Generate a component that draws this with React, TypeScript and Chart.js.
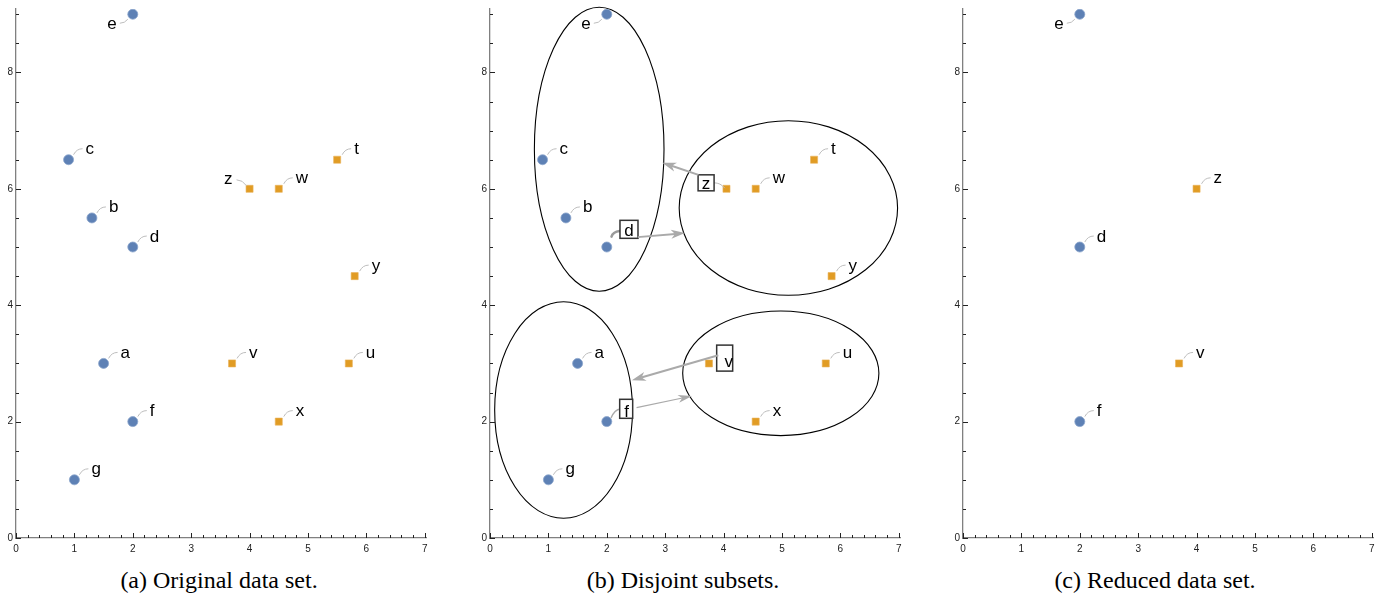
import React, { useEffect, useRef } from 'react';
import { Chart, registerables } from 'chart.js';
Chart.register(...registerables);

// ---------------- data ----------------
const BLUE_NAMES = ['e', 'c', 'b', 'd', 'a', 'f', 'g'];
const BLUE_X = [2, 0.9, 1.3, 2, 1.5, 2, 1];
const BLUE_Y = [9, 6.5, 5.5, 5, 3, 2, 1];
const ORANGE_NAMES = ['z', 'w', 't', 'y', 'v', 'u', 'x'];
const ORANGE_X = [4, 4.5, 5.5, 5.8, 3.7, 5.7, 4.5];
const ORANGE_Y = [6, 6, 6.5, 4.5, 3, 3, 2];
const ORANGE_X_SUBSETS = [4.05, 4.55, 5.55, 5.85, 3.75, 5.75, 4.55];
const REDUCED_NAMES = ['e', 'd', 'f', 'z', 'v'];

const ELLIPSE_CX = [1.87, 5.11, 1.26, 4.98];
const ELLIPSE_CY = [6.68, 5.67, 2.2, 2.83];
const ELLIPSE_RX = [1.11, 1.87, 1.18, 1.68];
const ELLIPSE_RY = [2.44, 1.5, 1.86, 1.07];

const ARROW_FROM_X = [3.57, 2.53, 3.91, 2.51];
const ARROW_FROM_Y = [6.24, 5.17, 3.14, 2.24];
const ARROW_TO_X = [2.95, 3.34, 2.43, 3.46];
const ARROW_TO_Y = [6.45, 5.24, 2.71, 2.44];

const X_TICKS = [0, 1, 2, 3, 4, 5, 6, 7];
const Y_TICKS = [0, 2, 4, 6, 8];
const CAPTIONS = ['(a) Original data set.', '(b) Disjoint subsets.', '(c) Reduced data set.'];

// ---------------- styles ----------------
const BLUE = '#5E81B5';
const ORANGE = '#E19C24';
const LABEL_FONT = '17px "Liberation Sans", Arial, sans-serif';
const TICK_FONT = { family: '"Liberation Sans", Arial, sans-serif', size: 10 };
const ARROW_WIDTH = [2, 2, 2, 1.2];
const PANEL_LEFT = [0, 474, 947];
const CAPTION_CENTER = [219, 683, 1155];

type Mode = 'a' | 'b' | 'c';
type P = { x: number; y: number; name: string };

const PLACE: Record<Mode, Record<string, string>> = {
  a: { e: 'leftDown', z: 'leftUp' },
  b: { e: 'leftDown', z: 'box', d: 'box', f: 'box', v: 'box' },
  c: { e: 'leftDown' },
};

const BOX: Record<string, any> = {
  z: { dx: -20.4, dy: -6, w: 16, h: 16, tx: 0, ty: 6, c: [-2, -1, -6, -6, -12, -6], cw: 1, cc: '#bbbbbb' },
  d: { dx: 22.2, dy: -17.7, w: 18, h: 18, tx: 0, ty: 7, c: [4.7, -10.4, 6, -15, 13, -16], cw: 2.5, cc: '#9a9a9a' },
  f: { dx: 19.4, dy: -12.8, w: 13, h: 19, tx: 0.5, ty: 8, c: [4.4, -4, 8, -12, 13.5, -12.6], cw: 1.3, cc: '#aaaaaa' },
  v: { dx: 15.7, dy: -5.3, w: 16, h: 26, tx: 4, ty: 8.6, c: null },
};

function drawLabel(ctx: CanvasRenderingContext2D, px: number, py: number, name: string, place: string) {
  ctx.save();
  ctx.font = LABEL_FONT;
  ctx.fillStyle = '#000';
  ctx.textBaseline = 'alphabetic';
  ctx.strokeStyle = '#bdbdbd';
  ctx.lineWidth = 1;
  if (place === 'leftDown') {
    ctx.beginPath();
    ctx.moveTo(px - 5, py + 5);
    ctx.quadraticCurveTo(px - 8, py + 9, px - 13, py + 9);
    ctx.stroke();
    ctx.textAlign = 'right';
    ctx.fillText(name, px - 16, py + 15);
  } else if (place === 'leftUp') {
    ctx.beginPath();
    ctx.moveTo(px - 3, py - 3);
    ctx.quadraticCurveTo(px - 7, py - 9, px - 13, py - 9);
    ctx.stroke();
    ctx.textAlign = 'right';
    ctx.fillText(name, px - 17, py - 4.5);
  } else if (place === 'box') {
    const b = BOX[name];
    if (b.c) {
      ctx.strokeStyle = b.cc;
      ctx.lineWidth = b.cw;
      ctx.lineCap = 'round';
      ctx.beginPath();
      ctx.moveTo(px + b.c[0], py + b.c[1]);
      ctx.quadraticCurveTo(px + b.c[2], py + b.c[3], px + b.c[4], py + b.c[5]);
      ctx.stroke();
    }
    const cx = px + b.dx, cy = py + b.dy;
    ctx.fillStyle = '#fff';
    ctx.fillRect(cx - b.w / 2, cy - b.h / 2, b.w, b.h);
    ctx.strokeStyle = '#333';
    ctx.lineWidth = 1.5;
    ctx.strokeRect(cx - b.w / 2, cy - b.h / 2, b.w, b.h);
    ctx.fillStyle = '#000';
    ctx.textAlign = 'center';
    ctx.fillText(name, cx + b.tx, cy + b.ty);
  } else {
    ctx.beginPath();
    ctx.moveTo(px + 5, py - 5);
    ctx.quadraticCurveTo(px + 8, py - 11, px + 14, py - 11);
    ctx.stroke();
    ctx.textAlign = 'left';
    ctx.fillText(name, px + 17, py - 5.5);
  }
  ctx.restore();
}

function drawArrow(ctx: CanvasRenderingContext2D, x0: number, y0: number, x1: number, y1: number, w: number) {
  const ang = Math.atan2(y1 - y0, x1 - x0);
  const ux = Math.cos(ang), uy = Math.sin(ang);
  const L = 14, W = w > 1.5 ? 4.5 : 4;
  ctx.save();
  ctx.strokeStyle = '#aaaaaa';
  ctx.fillStyle = '#aaaaaa';
  ctx.lineWidth = w;
  ctx.beginPath();
  ctx.moveTo(x0, y0);
  ctx.lineTo(x1 - ux * L * 0.7, y1 - uy * L * 0.7);
  ctx.stroke();
  ctx.beginPath();
  ctx.moveTo(x1, y1);
  ctx.lineTo(x1 - ux * L - uy * W, y1 - uy * L + ux * W);
  ctx.lineTo(x1 - ux * L * 0.72, y1 - uy * L * 0.72);
  ctx.lineTo(x1 - ux * L + uy * W, y1 - uy * L - ux * W);
  ctx.closePath();
  ctx.fill();
  ctx.restore();
}

function makeDecor(mode: Mode, points: P[]) {
  return {
    id: 'decor' + mode,
    beforeDatasetsDraw(chart: any) {
      if (mode !== 'b') return;
      const { ctx } = chart;
      const xs = chart.scales.x, ys = chart.scales.y;
      ctx.save();
      ctx.strokeStyle = '#000';
      ctx.lineWidth = 1.1;
      for (let i = 0; i < ELLIPSE_CX.length; i++) {
        const cx = xs.getPixelForValue(ELLIPSE_CX[i]);
        const cy = ys.getPixelForValue(ELLIPSE_CY[i]);
        const rx = xs.getPixelForValue(ELLIPSE_CX[i] + ELLIPSE_RX[i]) - cx;
        const ry = cy - ys.getPixelForValue(ELLIPSE_CY[i] + ELLIPSE_RY[i]);
        ctx.beginPath();
        ctx.ellipse(cx, cy, rx, ry, 0, 0, Math.PI * 2);
        ctx.stroke();
      }
      ctx.restore();
    },
    afterDraw(chart: any) {
      const { ctx, chartArea } = chart;
      const xs = chart.scales.x, ys = chart.scales.y;
      // inward tick marks
      ctx.save();
      ctx.strokeStyle = '#222';
      ctx.lineWidth = 1;
      ctx.beginPath();
      for (let k = 0; k <= 35; k++) {
        const v = k * 0.2;
        const px = Math.round(xs.getPixelForValue(v)) + 0.5;
        const len = k % 5 === 0 ? 5 : 3;
        ctx.moveTo(px, chartArea.bottom);
        ctx.lineTo(px, chartArea.bottom - len);
      }
      for (let k = 0; k <= 18; k++) {
        const v = k * 0.5;
        const py = Math.round(ys.getPixelForValue(v)) + 0.5;
        const len = k % 4 === 0 ? 5 : 3;
        ctx.moveTo(chartArea.left, py);
        ctx.lineTo(chartArea.left + len, py);
      }
      ctx.stroke();
      ctx.restore();
      // labels
      for (const p of points) {
        const px = xs.getPixelForValue(p.x);
        const py = ys.getPixelForValue(p.y);
        drawLabel(ctx, px, py, p.name, PLACE[mode][p.name] || 'right');
      }
      if (mode === 'b') {
        for (let i = 0; i < ARROW_FROM_X.length; i++) {
          drawArrow(
            ctx,
            xs.getPixelForValue(ARROW_FROM_X[i]),
            ys.getPixelForValue(ARROW_FROM_Y[i]),
            xs.getPixelForValue(ARROW_TO_X[i]),
            ys.getPixelForValue(ARROW_TO_Y[i]),
            ARROW_WIDTH[i]
          );
        }
      }
    },
  };
}

function Panel({ mode, blue, orange, left }: { mode: Mode; blue: P[]; orange: P[]; left: number }) {
  const ref = useRef<HTMLCanvasElement>(null);
  useEffect(() => {
    const chart = new Chart(ref.current!, {
      type: 'scatter',
      data: {
        datasets: [
          {
            data: blue as any,
            pointStyle: 'circle',
            pointRadius: 5,
            backgroundColor: BLUE,
            borderColor: '#8aa4cc',
            borderWidth: 0.8,
          },
          {
            data: orange as any,
            pointStyle: 'rect',
            pointRadius: 5,
            backgroundColor: ORANGE,
            borderColor: '#eab25a',
            borderWidth: 0.6,
          },
        ],
      },
      options: {
        responsive: false,
        animation: false,
        events: [],
        layout: { padding: { top: 7, right: 13.5, bottom: 0, left: 0 } },
        plugins: { legend: { display: false }, tooltip: { enabled: false } },
        scales: {
          x: {
            type: 'linear',
            min: 0,
            max: 7.03,
            afterBuildTicks: (s: any) => {
              s.ticks = X_TICKS.map((v) => ({ value: v }));
            },
            afterFit: (s: any) => {
              s.height = 22;
            },
            grid: { display: false, drawTicks: false },
            border: { display: true, color: '#808080', width: 1.3 },
            ticks: {
              font: TICK_FONT,
              color: '#222',
              padding: 5,
              autoSkip: false,
              maxRotation: 0,
              callback: (v: any) => String(v),
            },
          },
          y: {
            type: 'linear',
            min: 0,
            max: 9.09,
            afterBuildTicks: (s: any) => {
              s.ticks = Y_TICKS.map((v) => ({ value: v }));
            },
            afterFit: (s: any) => {
              s.width = 16;
            },
            grid: { display: false, drawTicks: false },
            border: { display: true, color: '#808080', width: 1.3 },
            ticks: {
              font: TICK_FONT,
              color: '#222',
              padding: 3,
              autoSkip: false,
              callback: (v: any) => String(v),
            },
          },
        },
      } as any,
      plugins: [makeDecor(mode, [...blue, ...orange]) as any],
    });
    return () => chart.destroy();
  }, []);
  return (
    <canvas
      ref={ref}
      width={440}
      height={560}
      style={{ position: 'absolute', left, top: 0, width: 440, height: 560 }}
    />
  );
}

function pts(names: string[], xs: number[], ys: number[], keep?: string[]): P[] {
  return names
    .map((name, i) => ({ name, x: xs[i], y: ys[i] }))
    .filter((p) => !keep || keep.includes(p.name));
}

export default function App() {
  const blueA = pts(BLUE_NAMES, BLUE_X, BLUE_Y);
  const orangeA = pts(ORANGE_NAMES, ORANGE_X, ORANGE_Y);
  const orangeB = pts(ORANGE_NAMES, ORANGE_X_SUBSETS, ORANGE_Y);
  const blueC = pts(BLUE_NAMES, BLUE_X, BLUE_Y, REDUCED_NAMES);
  const orangeC = pts(ORANGE_NAMES, ORANGE_X, ORANGE_Y, REDUCED_NAMES);
  return (
    <div style={{ position: 'absolute', left: 0, top: 0, width: 1391, height: 595, background: '#fff' }}>
      <Panel mode="a" blue={blueA} orange={orangeA} left={PANEL_LEFT[0]} />
      <Panel mode="b" blue={blueA} orange={orangeB} left={PANEL_LEFT[1]} />
      <Panel mode="c" blue={blueC} orange={orangeC} left={PANEL_LEFT[2]} />
      {CAPTIONS.map((c, i) => (
        <div
          key={c}
          style={{
            position: 'absolute',
            left: CAPTION_CENTER[i] - 200,
            width: 400,
            top: 568,
            lineHeight: '24px',
            textAlign: 'center',
            fontFamily: '"Liberation Serif", "Times New Roman", serif',
            fontSize: 24,
            color: '#000',
            whiteSpace: 'nowrap',
          }}
        >
          {c}
        </div>
      ))}
    </div>
  );
}
